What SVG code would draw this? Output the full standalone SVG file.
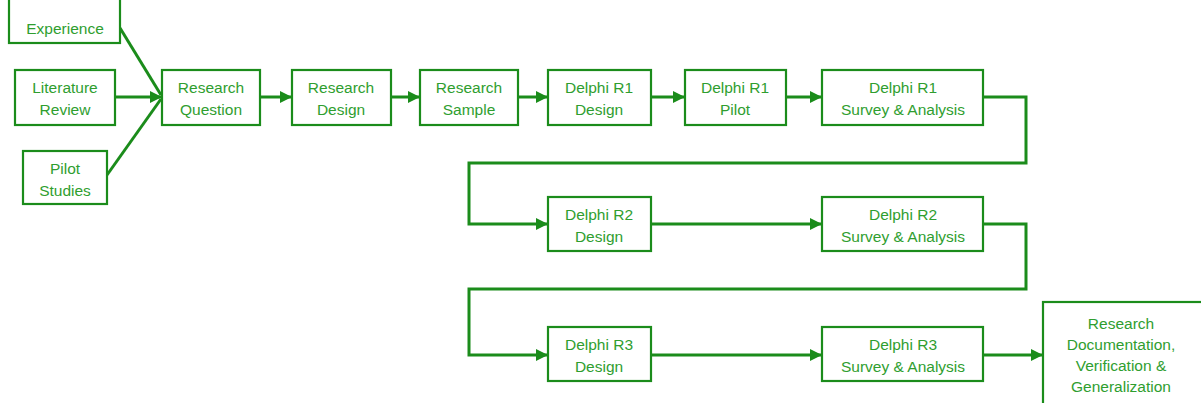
<svg xmlns="http://www.w3.org/2000/svg" width="1201" height="403" viewBox="0 0 1201 403">
<style>
.box{fill:#fff;stroke:#1b8c1b;stroke-width:2.2}
.t{font-family:"Liberation Sans",Arial,sans-serif;font-size:15.5px;fill:#2f9e2f;text-anchor:middle}
.c{fill:none;stroke:#1b8c1b;stroke-width:3}
</style>
<defs>
<marker id="ah" markerUnits="userSpaceOnUse" markerWidth="12" markerHeight="14" refX="11" refY="7" orient="auto">
<path d="M0,1 L12,7 L0,13 Z" fill="#1b8c1b"/>
</marker>
</defs>
<rect width="1201" height="403" fill="#fff"/>
<g id="connectors">
<line class="c" x1="120" y1="28" x2="161" y2="95"/>
<line class="c" x1="107" y1="175" x2="161" y2="99"/>
<line class="c" x1="115" y1="97" x2="161" y2="97" marker-end="url(#ah)"/>
<line class="c" x1="260" y1="97" x2="291" y2="97" marker-end="url(#ah)"/>
<line class="c" x1="391" y1="97" x2="419" y2="97" marker-end="url(#ah)"/>
<line class="c" x1="518" y1="97" x2="547" y2="97" marker-end="url(#ah)"/>
<line class="c" x1="651" y1="97" x2="684" y2="97" marker-end="url(#ah)"/>
<line class="c" x1="786" y1="97" x2="821" y2="97" marker-end="url(#ah)"/>
<polyline class="c" points="983,97 1026,97 1026,163 469,163 469,224 547,224" marker-end="url(#ah)"/>
<line class="c" x1="651" y1="224" x2="821" y2="224" marker-end="url(#ah)"/>
<polyline class="c" points="983,224 1026,224 1026,289 469,289 469,355 547,355" marker-end="url(#ah)"/>
<line class="c" x1="651" y1="355" x2="821" y2="355" marker-end="url(#ah)"/>
<line class="c" x1="983" y1="355" x2="1042" y2="355" marker-end="url(#ah)"/>
</g>
<g id="experience"><rect class="box" x="9" y="-10" width="111" height="53"/><text class="t" x="65" y="34">Experience</text></g>
<g id="literature-review"><rect class="box" x="15" y="70" width="100" height="55"/><text class="t" x="65" y="93">Literature</text><text class="t" x="65" y="115">Review</text></g>
<g id="pilot-studies"><rect class="box" x="23" y="151" width="84" height="53"/><text class="t" x="65" y="174">Pilot</text><text class="t" x="65" y="196">Studies</text></g>
<g id="research-question"><rect class="box" x="162" y="70" width="98" height="55"/><text class="t" x="211" y="93">Research</text><text class="t" x="211" y="115">Question</text></g>
<g id="research-design"><rect class="box" x="292" y="70" width="99" height="55"/><text class="t" x="341" y="93">Research</text><text class="t" x="341" y="115">Design</text></g>
<g id="research-sample"><rect class="box" x="420" y="70" width="98" height="55"/><text class="t" x="469" y="93">Research</text><text class="t" x="469" y="115">Sample</text></g>
<g id="r1-design"><rect class="box" x="548" y="70" width="103" height="55"/><text class="t" x="599" y="93">Delphi R1</text><text class="t" x="599" y="115">Design</text></g>
<g id="r1-pilot"><rect class="box" x="685" y="70" width="101" height="55"/><text class="t" x="735" y="93">Delphi R1</text><text class="t" x="735" y="115">Pilot</text></g>
<g id="r1-survey"><rect class="box" x="822" y="70" width="161" height="55"/><text class="t" x="903" y="93">Delphi R1</text><text class="t" x="903" y="115">Survey &amp; Analysis</text></g>
<g id="r2-design"><rect class="box" x="548" y="197" width="103" height="54"/><text class="t" x="599" y="220">Delphi R2</text><text class="t" x="599" y="242">Design</text></g>
<g id="r2-survey"><rect class="box" x="822" y="197" width="161" height="54"/><text class="t" x="903" y="220">Delphi R2</text><text class="t" x="903" y="242">Survey &amp; Analysis</text></g>
<g id="r3-design"><rect class="box" x="548" y="327" width="103" height="54"/><text class="t" x="599" y="350">Delphi R3</text><text class="t" x="599" y="372">Design</text></g>
<g id="r3-survey"><rect class="box" x="822" y="327" width="161" height="54"/><text class="t" x="903" y="350">Delphi R3</text><text class="t" x="903" y="372">Survey &amp; Analysis</text></g>
<g id="final"><rect class="box" x="1043" y="302" width="170" height="120"/><text class="t" x="1121" y="329">Research</text><text class="t" x="1121" y="350">Documentation,</text><text class="t" x="1121" y="371">Verification &amp;</text><text class="t" x="1121" y="392">Generalization</text></g>
</svg>
